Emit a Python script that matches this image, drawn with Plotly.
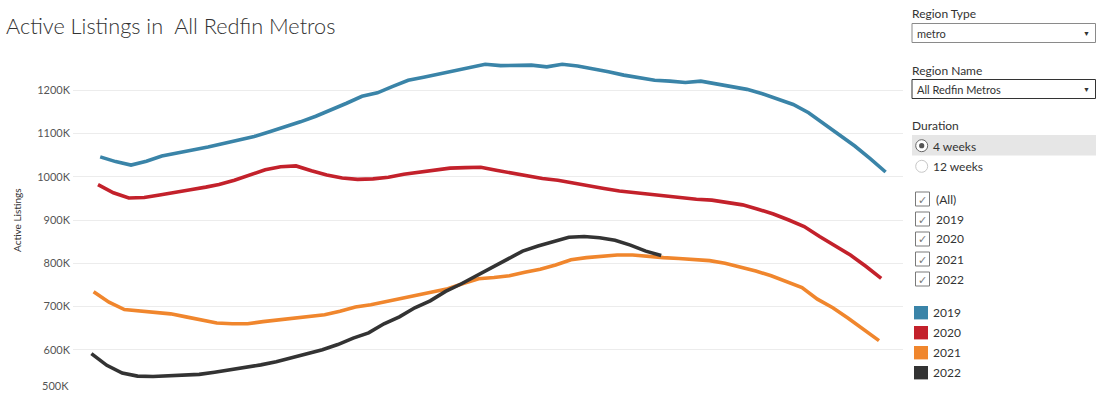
import pandas as pd
import plotly.graph_objects as go

# ---------------- data (active listings, thousands) ----------------
years = ["2019", "2020", "2021", "2022"]
first_week_end = ["2019-01-06", "2020-01-05", "2021-01-03", "2022-01-02"]
colors = ["#3A84A8", "#C3212B", "#F0862D", "#333333"]

listings_2019 = [1046, 1035, 1027, 1036, 1048, 1056, 1062, 1069, 1077, 1083,
                 1093, 1104, 1115, 1127, 1140, 1154, 1170, 1186, 1194, 1209,
                 1223, 1230, 1238, 1246, 1253, 1260, 1257, 1258, 1258, 1254,
                 1260, 1256, 1250, 1243, 1235, 1228, 1223, 1221, 1218, 1221,
                 1215, 1208, 1202, 1192, 1180, 1167, 1148, 1122, 1098, 1071,
                 1042, 1011]
listings_2020 = [982, 963, 951, 952, 958, 965, 970, 976, 982, 992,
                 1004, 1016, 1023, 1025, 1014, 1004, 997, 994, 995, 999,
                 1006, 1011, 1016, 1020, 1021, 1022, 1015, 1008, 1002, 996,
                 992, 985, 979, 973, 967, 963, 958, 954, 951, 948,
                 946, 940, 935, 925, 914, 900, 885, 862, 841, 819,
                 793, 765]
listings_2021 = [734, 710, 693, 689, 687, 683, 676, 668, 662, 660,
                 660, 665, 669, 673, 676, 681, 689, 699, 704, 711,
                 719, 726, 732, 741, 753, 764, 767, 771, 779, 786,
                 796, 808, 813, 816, 819, 819, 815, 813, 811, 809,
                 806, 800, 792, 782, 771, 758, 744, 717, 697, 673,
                 647, 621]
listings_2022 = [591, 564, 546, 539, 538, 539, 540, 543, 548, 553,
                 558, 565, 572, 581, 591, 600, 612, 627, 639, 660,
                 676, 697, 713, 735, 752, 771, 792, 809, 828, 840,
                 851, 860, 862, 859, 853, 842, 828, 818]
series = [listings_2019, listings_2020, listings_2021, listings_2022]

y_tick_vals = [500, 600, 700, 800, 900, 1000, 1100, 1200, 1300]
y_tick_text = ["", "600K", "700K", "800K", "900K", "1000K", "1100K", "1200K", ""]

title_text = "Active Listings in \u00a0All Redfin Metros"
region_type = "metro"
region_name = "All Redfin Metros"
durations = ["4 weeks", "12 weeks"]
filter_items = ["(All)"] + years

# ---------------- layout geometry (pixels) ----------------
FIG_W, FIG_H = 1113, 397
L, R, T, B = 73, 903, 47, 393
W, H = R - L, B - T
FONT = "Lato"


def px(x):
    return (x - L) / W


def py(y):
    return (B - y) / H


fig = go.Figure()

for yr, start, vals, col in zip(years, first_week_end, series, colors):
    dates = pd.date_range(start, periods=len(vals), freq="7D")
    common = pd.to_datetime(pd.DataFrame({"year": 2001, "month": dates.month, "day": dates.day}))
    fig.add_trace(go.Scatter(
        x=common.dt.dayofyear, y=vals, mode="lines", name=yr,
        line=dict(color=col, width=3.6),
        hovertemplate=yr + " %{y}K<extra></extra>",
    ))

shapes = []
annotations = []


def text(x, y, s, size=12, color="#333333", anchor="left"):
    annotations.append(dict(
        x=px(x - (1.5 if anchor == "left" else 0)), y=py(y),
        xref="paper", yref="paper", text=s, showarrow=False,
        xanchor=anchor, yanchor="middle",
        font=dict(family=FONT, size=size, color=color),
    ))


def rect(x0, y0, x1, y1, line=None, fill=None, width=1):
    shapes.append(dict(
        type="rect", xref="paper", yref="paper",
        x0=px(x0), x1=px(x1), y0=py(y1), y1=py(y0),
        line=dict(color=line or "rgba(0,0,0,0)", width=width if line else 0),
        fillcolor=fill or "rgba(0,0,0,0)",
    ))


def circle(cx, cy, r, line=None, fill=None):
    shapes.append(dict(
        type="circle", xref="paper", yref="paper",
        x0=px(cx - r), x1=px(cx + r), y0=py(cy + r), y1=py(cy - r),
        line=dict(color=line or "rgba(0,0,0,0)", width=1 if line else 0),
        fillcolor=fill or "rgba(0,0,0,0)",
    ))


# 500K label sits above its gridline
annotations.append(dict(
    x=0, y=500, xref="paper", yref="y", text="500K", showarrow=False,
    xanchor="right", yanchor="middle", xshift=-2, yshift=8,
    font=dict(family=FONT, size=11, color="#555555"),
))

# y-axis title
annotations.append(dict(
    x=px(17), y=py(220), xref="paper", yref="paper", text="Active Listings",
    showarrow=False, textangle=-90, xanchor="center", yanchor="middle",
    font=dict(family=FONT, size=10, color="#333333"),
))

# Region Type
text(911, 14, "Region Type", 12)
rect(912, 23.5, 1095.5, 42.5, line="#8a8a8a", fill="white")
text(916, 33, region_type, 11)
text(1086, 33, "\u25BC", 7, anchor="center")

# Region Name
text(911, 70, "Region Name", 12)
rect(912, 79.5, 1095.5, 98.5, line="#333333", fill="white")
text(916, 89, region_name, 11)
text(1086, 89, "\u25BC", 7, anchor="center")

# Duration
text(911, 126, "Duration", 12)
rect(912, 135, 1096, 155.5, fill="#e6e6e6")
circle(921.7, 145.7, 6, line="#666666", fill="white")
circle(921.7, 145.7, 2.6, fill="#555555")
text(932, 146, durations[0], 12)
circle(921.7, 166.3, 6, line="#c8c8c8", fill="white")
text(932, 166, durations[1], 12)

# Year filter checkboxes
for i, item in enumerate(filter_items):
    cy = 199 + 20 * i
    rect(915.5, cy - 7, 929.5, cy + 7, line="#7a7a7a", fill="white")
    text(922.5, cy, "\u2713", 11, color="#7a7a7a", anchor="center")
    text(935, cy, item, 12)

# Colour legend
for i, (yr, col) in enumerate(zip(years, colors)):
    cy = 312.7 + 20 * i
    rect(914, cy - 6.7, 928, cy + 6.7, fill=col)
    text(933, cy, yr, 12)

fig.update_layout(
    width=FIG_W, height=FIG_H,
    margin=dict(l=L, r=FIG_W - R, t=T, b=FIG_H - B, pad=0),
    paper_bgcolor="white", plot_bgcolor="white",
    showlegend=False,
    title=dict(
        text=title_text, xref="container", yref="container",
        x=6 / FIG_W, y=1 - 26 / FIG_H, xanchor="left", yanchor="middle",
        font=dict(family=FONT, size=21.7, color="#333333", weight=300),
    ),
    xaxis=dict(
        range=[(L - 87) / 2.2, (R - 87) / 2.2],
        showgrid=False, zeroline=False, showticklabels=False, showline=False,
        fixedrange=True,
    ),
    yaxis=dict(
        range=[500, 1300], tickvals=y_tick_vals, ticktext=y_tick_text,
        showgrid=True, gridcolor="#ececec", gridwidth=1,
        zeroline=False, showline=False, ticks="",
        tickfont=dict(family=FONT, size=11, color="#555555"),
        ticklabelstandoff=2, fixedrange=True,
    ),
    shapes=shapes, annotations=annotations,
)

fig.write_html(
    "out.html",
    config={"displayModeBar": False},
    post_script="document.body.style.margin='0px';document.body.style.overflow='hidden';",
)
